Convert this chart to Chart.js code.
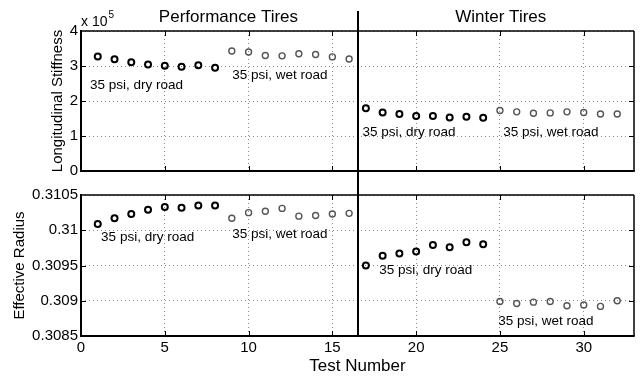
<!DOCTYPE html>
<html><head><meta charset="utf-8">
<script src="https://cdn.jsdelivr.net/npm/chart.js@4/dist/chart.umd.min.js"></script>
<style>
html,body{margin:0;padding:0;background:#fff;}
#wrap{position:relative;width:642px;height:377px;overflow:hidden;}
canvas{position:absolute;left:0;}
</style></head><body>
<div id="wrap">
<canvas id="top" width="642" height="183" style="top:0px"></canvas>
<canvas id="bot" width="642" height="194" style="top:183px"></canvas>
</div>
<script>
// ---- data ----
const perfDryX = [1,2,3,4,5,6,7,8];
const perfWetX = [9,10,11,12,13,14,15,16];
const winDryX  = [17,18,19,20,21,22,23,24];
const winWetX  = [25,26,27,28,29,30,31,32];

const stiffPerfDry = [327500,319000,311000,304000,301000,298000,302000,295000];
const stiffPerfWet = [343000,340000,330000,329000,335000,333000,326000,320000];
const stiffWinDry  = [179000,167000,163000,157000,157000,153000,155000,152000];
const stiffWinWet  = [173000,169000,165000,166000,169000,167000,163000,163000];

const radPerfDry = [0.31009,0.31017,0.31023,0.31029,0.31033,0.31032,0.31035,0.31035];
const radPerfWet = [0.31017,0.31025,0.31027,0.31031,0.31020,0.31021,0.31023,0.31024];
const radWinDry  = [0.30950,0.30964,0.30967,0.30970,0.30979,0.30976,0.30983,0.30980];
const radWinWet  = [0.30899,0.30896,0.30898,0.30899,0.30893,0.30894,0.30892,0.30900];

const xTicks = [0,5,10,15,20,25,30];
const stiffTicks = [0,100000,200000,300000,400000];
const radTicks = [0.3085,0.309,0.3095,0.31,0.3105];

const groupTitles = ['Performance Tires','Winter Tires'];
const noteDry = '35 psi, dry road';
const noteWet = '35 psi, wet road';

// ---- styling ----
const FF = '"Liberation Sans", Arial, Helvetica, sans-serif';
const DRY = '#000000', WET = '#555555';

function pts(xs, ys){ return xs.map((x,i)=>({x:x, y:ys[i]})); }
function ds(xs, ys, wet){
  return {data: pts(xs, ys), showLine:false, pointStyle:'circle', pointRadius:3, pointHoverRadius:3,
    borderColor: wet?WET:DRY, pointBorderWidth: wet?1.4:2, borderWidth: wet?1.4:2,
    backgroundColor:'rgba(0,0,0,0)'};
}

function xScale(bottom){
  return {type:'linear', min:0, max:33,
    afterBuildTicks: s=>{ s.ticks = xTicks.map(v=>({value:v})); },
    afterFit: s=>{ s.height = bottom?41:10; },
    grid:{color:'#8a8a8a', lineWidth:1, drawTicks:false},
    border:{display:false, dash:[1,3]},
    ticks:{display:bottom, padding:3, color:'#000', font:{size:15, family:FF}, maxRotation:0, autoSkip:false},
    title:{display:bottom, text:'Test Number', color:'#000', font:{size:17, family:FF}, padding:{top:0,bottom:0}}
  };
}
function yScale(min, max, ticks, fmt){
  return {type:'linear', min:min, max:max,
    afterBuildTicks: s=>{ s.ticks = ticks.map(v=>({value:v})); },
    afterFit: s=>{ s.width = 81; },
    grid:{color:'#8a8a8a', lineWidth:1, drawTicks:false},
    border:{display:false, dash:[1,3]},
    ticks:{padding:3, color:'#000', font:{size:15, family:FF}, autoSkip:false, callback: fmt}
  };
}

function decor(o){
  return {id:'decor', afterDraw(chart){
    const ctx = chart.ctx, a = chart.chartArea, x = chart.scales.x, y = chart.scales.y;
    const line = (x1,y1,x2,y2)=>{ ctx.beginPath(); ctx.moveTo(x1,y1); ctx.lineTo(x2,y2); ctx.stroke(); };
    ctx.save();
    ctx.strokeStyle = '#000'; ctx.lineWidth = 1;
    xTicks.forEach(v=>{ if (v<=x.min || v>=x.max) return;
      const px = Math.round(x.getPixelForValue(v))+0.5;
      line(px,a.bottom,px,a.bottom-5); line(px,a.top,px,a.top+5); });
    o.yTicks.forEach(v=>{ if (v<=y.min || v>=y.max) return;
      const py = Math.round(y.getPixelForValue(v))+0.5;
      line(a.left,py,a.left+5,py); line(a.right,py,a.right-5,py); });
    // frame
    ctx.lineWidth = 1.5;
    line(a.left,a.top,a.right,a.top); line(a.right,a.top,a.right,a.bottom);
    ctx.lineWidth = 2;
    line(a.left,a.top-1,a.left,a.bottom); line(a.left-1,a.bottom,a.right+0.75,a.bottom);
    // separator between tire groups
    const sx = Math.round(x.getPixelForValue(16.5));
    line(sx, o.sepTop===null? a.top : o.sepTop, sx, o.sepBottom===null? a.bottom : o.sepBottom);
    // notes
    ctx.fillStyle = '#000'; ctx.textBaseline = 'middle'; ctx.textAlign = 'left';
    ctx.font = '13.5px ' + FF;
    o.notes.forEach(n=>ctx.fillText(n.text, x.getPixelForValue(n.x), y.getPixelForValue(n.y)));
    // group titles
    if (o.titles){
      ctx.textAlign = 'center'; ctx.font = '17px ' + FF;
      o.titles.forEach(t=>ctx.fillText(t.text, x.getPixelForValue(t.x), a.top-14));
    }
    // exponent
    if (o.exp){
      ctx.textAlign = 'left'; ctx.font = '14px ' + FF;
      ctx.fillText('x 10', a.left, a.top-9);
      const w = ctx.measureText('x 10').width;
      ctx.font = '10px ' + FF;
      ctx.fillText('5', a.left+w+1, a.top-16);
    }
    // y title
    ctx.save();
    ctx.translate(o.yTitleX, (a.top+a.bottom)/2);
    ctx.rotate(-Math.PI/2);
    ctx.textAlign = 'center'; ctx.textBaseline = 'middle'; ctx.font = '15px ' + FF;
    ctx.fillText(o.yTitle, 0, 0);
    ctx.restore();
    ctx.restore();
  }};
}

const common = {responsive:false, animation:false, devicePixelRatio:1,
  plugins:{legend:{display:false}, tooltip:{enabled:false}}, events:[]};

new Chart(document.getElementById('top'), {
  type:'scatter',
  data:{datasets:[ds(perfDryX,stiffPerfDry,false), ds(perfWetX,stiffPerfWet,true),
                  ds(winDryX,stiffWinDry,false), ds(winWetX,stiffWinWet,true)]},
  options:Object.assign({}, common, {
    layout:{padding:{top:31,right:8,left:0,bottom:0}},
    scales:{x:xScale(false), y:yScale(0,400000,stiffTicks,v=>String(v/100000))}
  }),
  plugins:[decor({yTicks:stiffTicks, sepTop:11, sepBottom:183, yTitle:'Longitudinal Stiffness', yTitleX:58, exp:true,
    titles:[{text:groupTitles[0], x:8.8},{text:groupTitles[1], x:25.05}],
    notes:[{text:noteDry,x:0.54,y:245000},{text:noteWet,x:9.03,y:273000},
           {text:noteDry,x:16.8,y:110000},{text:noteWet,x:25.2,y:110000}]})]
});

new Chart(document.getElementById('bot'), {
  type:'scatter',
  data:{datasets:[ds(perfDryX,radPerfDry,false), ds(perfWetX,radPerfWet,true),
                  ds(winDryX,radWinDry,false), ds(winWetX,radWinWet,true)]},
  options:Object.assign({}, common, {
    layout:{padding:{top:10,right:8,left:0,bottom:0}},
    scales:{x:xScale(true), y:yScale(0.3085,0.3105,radTicks,v=>String(+Number(v).toFixed(4)))}
  }),
  plugins:[decor({yTicks:radTicks, sepTop:0, sepBottom:null, yTitle:'Effective Radius', yTitleX:20, exp:false,
    notes:[{text:noteDry,x:1.2,y:0.30990},{text:noteWet,x:9.03,y:0.30994},
           {text:noteDry,x:17.8,y:0.30943},{text:noteWet,x:24.9,y:0.30871}]})]
});
</script>
</body></html>
